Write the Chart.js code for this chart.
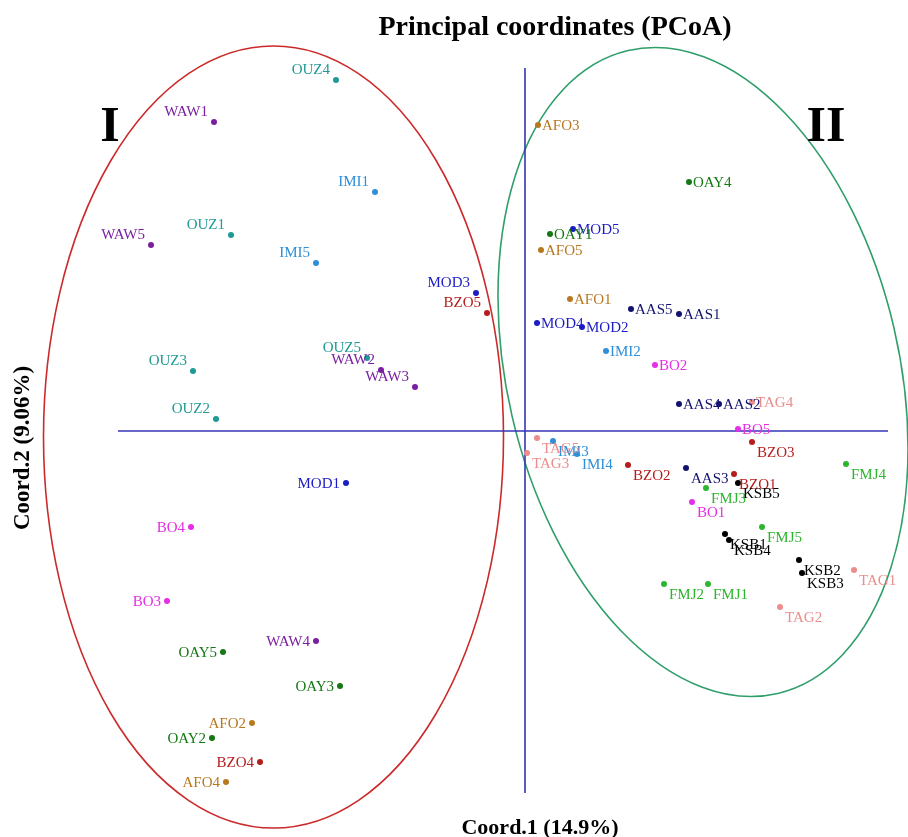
<!DOCTYPE html>
<html>
<head>
<meta charset="utf-8">
<script src="https://cdn.jsdelivr.net/npm/chart.js@4/dist/chart.umd.min.js"></script>
<style>
  html, body { margin: 0; padding: 0; background: #ffffff; }
  #wrap { position: relative; width: 908px; height: 837px; }
</style>
</head>
<body>
<div id="wrap"><canvas id="c"></canvas></div>
<script>
// ---- Data ----
const sampleNames = [
  'OUZ4','WAW1','IMI1','WAW5','OUZ1','IMI5','MOD3','BZO5','OUZ5','WAW2','WAW3','OUZ3','OUZ2',
  'MOD1','BO4','BO3','WAW4','OAY5','OAY3','AFO2','OAY2','BZO4','AFO4',
  'AFO3','OAY4','OAY1','MOD5','AFO5','AFO1','AAS5','AAS1','MOD4','MOD2','IMI2','BO2','AAS4','AAS2','TAG4','BO5',
  'TAG5','IMI3','TAG3','IMI4','BZO2','AAS3','BZO1','KSB5','FMJ3','BO1','BZO3','FMJ4','FMJ5','KSB1','KSB4','KSB2','KSB3','TAG1','FMJ2','FMJ1','TAG2'
];
const coord1 = [
  -1.89,-3.11,-1.50,-3.74,-2.94,-2.09,-0.49,-0.38,-1.58,-1.44,-1.10,-3.32,-3.09,
  -1.79,-3.34,-3.58,-2.09,-3.02,-1.85,-2.73,-3.13,-2.65,-2.99,
  0.13,1.64,0.25,0.48,0.16,0.45,1.06,1.54,0.12,0.57,0.81,1.30,1.54,1.94,2.27,2.13,
  0.12,0.28,0.02,0.52,1.03,1.61,2.09,2.13,1.81,1.67,2.27,3.21,2.37,2.00,2.04,2.74,2.77,3.29,1.39,1.83,2.55
];
const coord2 = [
  3.51,3.09,2.39,1.86,1.96,1.68,1.38,1.18,0.73,0.61,0.44,0.60,0.12,
  -0.52,-0.96,-1.70,-2.10,-2.21,-2.55,-2.92,-3.07,-3.31,-3.51,
  3.06,2.49,1.97,2.02,1.81,1.32,1.22,1.17,1.08,1.04,0.80,0.66,0.27,0.27,0.29,0.02,
  -0.07,-0.10,-0.22,-0.23,-0.34,-0.37,-0.43,-0.52,-0.57,-0.71,-0.11,-0.33,-0.96,-1.03,-1.09,-1.29,-1.42,-1.39,-1.53,-1.53,-1.76
];
const groupNames = ['OUZ','WAW','IMI','MOD','BZO','BO','OAY','AFO','AAS','TAG','FMJ','KSB'];
const axisPercent = ['Coord.1 (14.9%)', 'Coord.2 (9.06%)'];
const chartTitle = 'Principal coordinates (PCoA)';
const clusterNames = ['I', 'II'];

// ---- Styles / placement (not data) ----
const groupColors = ['#1f9a95','#7a1fa0','#2f8fd8','#1c1cc4','#b51c1c','#e62ee6','#147814','#b87820','#121270','#ec8c8c','#2eb52e','#000000'];
const labelSide = [
  'AL','AL','AL','AL','AL','AL','AL','AL','AL','AL','AL','AL','AL',
  'L','L','L','L','L','L','L','L','L','L',
  'R','R','R','R','R','R','R','R','R','R','R','R','R','R','R','R',
  'BR','BR','BR','BR','BR','BR','BR','BR','BR','BR','BR','BR','BR','BR','BR','BR','BR','BR','BR','BR','BR'
];
// ellipses: [centerX, centerY, radiusX, radiusY, rotationDeg] in data units
const ellipseRed = [-2.515, -0.06, 2.30, 3.91, 0];
const ellipseGreen = [1.78, 0.59, 1.96, 3.30, -13.1];
const axisLineH = [{x: -4.07, y: 0}, {x: 3.63, y: 0}];
const axisLineV = [{x: 0, y: 3.63}, {x: 0, y: -3.62}];

const SERIF = '"Liberation Serif", "Times New Roman", serif';

const groupOf = n => n.replace(/\d+$/, '');
const datasets = groupNames.map((g, gi) => {
  const pts = [];
  sampleNames.forEach((n, i) => {
    if (groupOf(n) === g) pts.push({x: coord1[i], y: coord2[i], name: n, side: labelSide[i]});
  });
  return {
    type: 'scatter', label: g, data: pts,
    backgroundColor: groupColors[gi], borderColor: groupColors[gi],
    pointRadius: 3, borderWidth: 0, order: 1
  };
});
datasets.push({type: 'line', label: 'axisH', data: axisLineH, borderColor: '#3535b5', borderWidth: 1.6, pointRadius: 0, showLine: true, order: 5});
datasets.push({type: 'line', label: 'axisV', data: axisLineV, borderColor: '#3535b5', borderWidth: 1.6, pointRadius: 0, showLine: true, order: 5});

const decorPlugin = {
  id: 'decor',
  beforeDatasetsDraw(chart) {
    const ctx = chart.ctx, xs = chart.scales.x, ys = chart.scales.y;
    const ux = xs.getPixelForValue(1) - xs.getPixelForValue(0);
    const uy = ys.getPixelForValue(0) - ys.getPixelForValue(1);
    [[ellipseRed, '#cc2a2a'], [ellipseGreen, '#2f9e6a']].forEach(([e, col]) => {
      ctx.save();
      ctx.beginPath();
      ctx.ellipse(xs.getPixelForValue(e[0]), ys.getPixelForValue(e[1]), e[2] * ux, e[3] * uy, e[4] * Math.PI / 180, 0, Math.PI * 2);
      ctx.strokeStyle = col; ctx.lineWidth = 1.6; ctx.stroke();
      ctx.restore();
    });
  },
  afterDatasetsDraw(chart) {
    const ctx = chart.ctx;
    ctx.save();
    ctx.font = '15px ' + SERIF;
    chart.data.datasets.forEach((ds, di) => {
      if (ds.type !== 'scatter') return;
      const meta = chart.getDatasetMeta(di);
      meta.data.forEach((el, i) => {
        const p = ds.data[i];
        ctx.fillStyle = ds.backgroundColor;
        let tx = el.x, ty = el.y;
        if (p.side === 'AL') { ctx.textAlign = 'right'; tx -= 6; ty -= 11; }
        else if (p.side === 'L') { ctx.textAlign = 'right'; tx -= 6; }
        else if (p.side === 'R') { ctx.textAlign = 'left'; tx += 4; }
        else { ctx.textAlign = 'left'; tx += 5; ty += 10; }
        ctx.textBaseline = 'middle';
        ctx.fillText(p.name, tx, ty + 1);
      });
    });
    ctx.restore();
  },
  afterDraw(chart) {
    const ctx = chart.ctx;
    ctx.save();
    ctx.fillStyle = '#000';
    ctx.textAlign = 'center';
    ctx.textBaseline = 'middle';
    ctx.font = 'bold 28px ' + SERIF;
    ctx.fillText(chartTitle, 555, 28);
    ctx.font = 'bold 22px ' + SERIF;
    ctx.fillText(axisPercent[0], 540, 828);
    ctx.save();
    ctx.translate(23, 448);
    ctx.rotate(-Math.PI / 2);
    ctx.font = 'bold 23px ' + SERIF;
    ctx.fillText(axisPercent[1], 0, 0);
    ctx.restore();
    ctx.font = 'bold 50px ' + SERIF;
    ctx.fillText(clusterNames[0], 110, 128);
    ctx.fillText(clusterNames[1], 826, 128);
    ctx.restore();
  }
};

new Chart(document.getElementById('c'), {
  type: 'scatter',
  data: { datasets },
  options: {
    responsive: true,
    maintainAspectRatio: false,
    animation: false,
    events: [],
    layout: { padding: 0, autoPadding: false },
    plugins: { legend: { display: false }, tooltip: { enabled: false }, title: { display: false } },
    scales: {
      x: { type: 'linear', display: false, min: -5.25, max: 3.83 },
      y: { type: 'linear', display: false, min: -4.06, max: 4.31 }
    }
  },
  plugins: [decorPlugin]
});
</script>
</body>
</html>
